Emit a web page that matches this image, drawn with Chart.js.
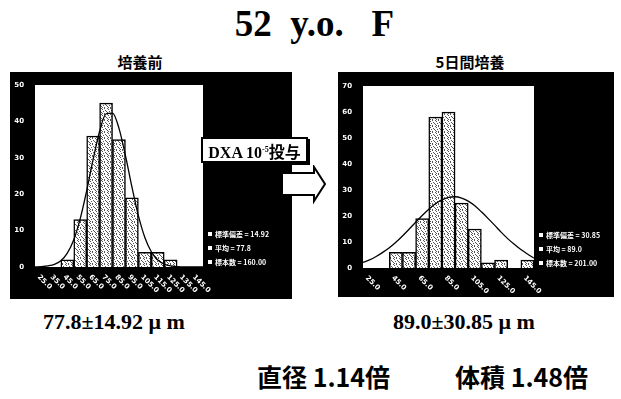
<!DOCTYPE html>
<html>
<head>
<meta charset="utf-8">
<script src="https://cdn.jsdelivr.net/npm/chart.js@4.4.1/dist/chart.umd.min.js"></script>
<style>
  body { margin:0; background:#fff; width:621px; height:399px; position:relative; overflow:hidden; }
  .abs { position:absolute; white-space:pre; }
  #title { left:4px; width:621px; top:2px; text-align:center; font:bold 37px "Liberation Serif", serif; }
  .sub { top:51px; font:bold 15px "Noto Sans CJK JP", sans-serif; text-align:center; }
  .res { top:309px; font:bold 22px "Liberation Serif", serif; }
  .ratio { top:358px; font:bold 25px "Noto Sans CJK JP", sans-serif; }
  #dxa { left:201px; top:137px; width:103px; height:22px; background:#fff; border:2px solid #000;
         box-shadow:2px 2px 0 #000; font:bold 16px "Liberation Serif", serif; text-align:center; line-height:22px; }
  #dxa sup { font-size:8px; vertical-align:6px; }
  #dxa .jp { font-family:"Noto Sans CJK JP", sans-serif; font-weight:700; font-size:16px; }
  canvas { position:absolute; }
</style>
</head>
<body>
<div id="title" class="abs">52  y.o.   F</div>
<div class="abs sub" style="left:95px; width:90px;">培養前</div>
<div class="abs sub" style="left:415px; width:110px;">5日間培養</div>

<canvas id="before" width="282" height="227" style="left:10px; top:72px;"></canvas>
<canvas id="after" width="276" height="225" style="left:338px; top:72px;"></canvas>

<div id="dxa" class="abs">DXA 10<sup>-5</sup><span class="jp">投与</span></div>
<svg class="abs" style="left:280px; top:165px;" width="48" height="40">
  <polygon points="2,8 34,8 34,2 45,19 34,36 34,30 2,30" fill="#fff" stroke="#000" stroke-width="2"/>
</svg>

<div class="abs res" style="left:43px;">77.8±14.92 μ m</div>
<div class="abs res" style="left:393px;">89.0±30.85 μ m</div>
<div class="abs ratio" style="left:257px;">直径 1.14倍</div>
<div class="abs ratio" style="left:455px;">体積 1.48倍</div>

<script>
// histogram bins (10 µm wide, 20 - 150)
const binLabels = ["25.0", "35.0", "45.0", "55.0", "65.0", "75.0", "85.0", "95.0", "105.0", "115.0", "125.0", "135.0", "145.0"];
const beforeCounts = [0, 0, 2, 13, 36, 45, 35, 19, 4, 4, 2, 0, 0];
const afterCounts = [0, 0, 6, 6, 19, 58, 60, 25, 15, 2, 3, 0, 3];

// fitted curves, every 5 µm
const curveX = [20, 25, 30, 35, 40, 45, 50, 55, 60, 65, 70, 75, 80, 85, 90, 95, 100, 105, 110, 115, 120, 125, 130, 135, 140, 145, 150];
const beforeCurve = [0, 0.1, 0.3, 0.7, 1.7, 3.8, 7.5, 13.3, 21, 29.6, 37.3, 42.1, 42.3, 38.1, 30.6, 22, 14.1, 8.1, 4.2, 1.9, 0.8, 0.3, 0.1, 0, 0, 0, 0];
const afterCurve = [2.2, 3.1, 4.4, 6, 7.8, 9.9, 12.3, 14.9, 17.6, 20.2, 22.6, 24.7, 26.2, 27.2, 27.4, 26.9, 25.7, 23.9, 21.6, 19.1, 16.5, 13.8, 11.3, 9.1, 7.1, 5.4, 3.8];

const beforeStats = ["標準偏差 = 14.92", "平均 = 77.8", "標本数 = 160.00"];
const afterStats = ["標準偏差 = 30.85", "平均 = 89.0", "標本数 = 201.00"];

// speckled fill like the scanned bars
function speckle() {
  var c = document.createElement("canvas");
  c.width = 6; c.height = 6;
  var g = c.getContext("2d");
  g.fillStyle = "#fff";
  g.fillRect(0, 0, 6, 6);
  g.fillStyle = "#555";
  [[1, 0], [4, 0], [2, 1], [5, 2], [0, 3], [3, 3], [1, 4], [4, 5], [2, 5]].forEach(function (p) {
    g.fillRect(p[0], p[1], 1, 1);
  });
  return g.createPattern(c, "repeat");
}

const panel = {
  id: "panel",
  beforeDraw(chart) {
    var ctx = chart.ctx, a = chart.chartArea;
    ctx.save();
    ctx.fillStyle = "#000";
    ctx.fillRect(0, 0, chart.width, chart.height);
    ctx.fillStyle = "#fff";
    ctx.fillRect(a.left, a.top, a.right - a.left, a.bottom - a.top);
    ctx.restore();
  },
  afterDraw(chart, args, opts) {
    var ctx = chart.ctx, a = chart.chartArea, xs = chart.scales.x;
    ctx.save();
    ctx.fillStyle = "#fff";
    ctx.font = "bold 7px 'DejaVu Sans'";
    ctx.textAlign = "left";
    ctx.textBaseline = "middle";
    binLabels.forEach(function (lab, i) {
      if (i % opts.every) return;
      var px = xs.getPixelForValue(i);
      ctx.save();
      ctx.translate(px - 3, a.bottom + 9);
      ctx.rotate(Math.PI / 4);
      ctx.fillText(lab, 0, 0);
      ctx.restore();
    });
    ctx.font = "bold 7px 'Noto Sans CJK JP'";
    opts.stats.forEach(function (s, i) {
      ctx.fillRect(a.right + 5, a.top + 147 + i * 14, 4, 4);
      ctx.fillText(s, a.right + 12, a.top + 149 + i * 14);
    });
    ctx.restore();
  }
};

function histChart(id, counts, curve, ymax, pad, xh, stats, every) {
  var ctx = document.getElementById(id).getContext("2d");
  return new Chart(ctx, {
    type: "bar",
    data: {
      labels: binLabels,
      datasets: [
        {
          type: "line",
          xAxisID: "x2",
          data: curveX.map(function (x, i) { return { x: x, y: curve[i] }; }),
          borderColor: "#000",
          borderWidth: 1.3,
          pointRadius: 0,
          cubicInterpolationMode: "monotone",
          order: 0,
        },
        {
          data: counts,
          backgroundColor: speckle(),
          borderColor: "#000",
          borderWidth: 1.5,
          grouped: false,
          barPercentage: 1,
          categoryPercentage: 1,
          order: 1,
        },
      ],
    },
    options: {
      responsive: false,
      animation: false,
      layout: { padding: { top: pad.top, right: pad.right, left: 0, bottom: 0 } },
      plugins: {
        legend: { display: false },
        tooltip: { enabled: false },
        panel: { stats: stats, every: every },
      },
      scales: {
        x: {
          grid: { display: false },
          border: { display: false },
          ticks: { display: false },
          afterFit: function (s) { s.height = xh; },
        },
        x2: { type: "linear", display: false, offset: false, min: 20, max: 150 },
        y: {
          min: 0,
          max: ymax,
          grid: { display: false },
          border: { display: false },
          ticks: { stepSize: 10, color: "#fff", font: { size: 7, weight: "bold", family: "DejaVu Sans" }, padding: 3 },
          afterFit: function (s) { s.width = 25; },
        },
      },
    },
    plugins: [panel],
  });
}

histChart("before", beforeCounts, beforeCurve, 50, { top: 13, right: 89 }, 32, beforeStats, 1);
histChart("after", afterCounts, afterCurve, 70, { top: 14, right: 80 }, 29, afterStats, 2);
</script>
</body>
</html>
